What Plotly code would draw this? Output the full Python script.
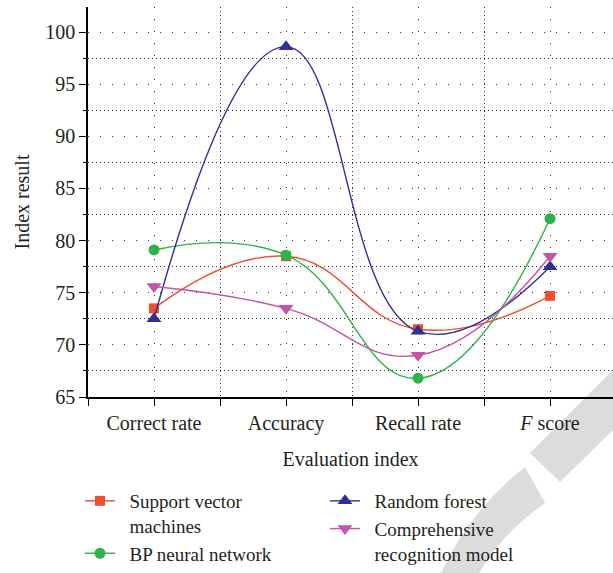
import plotly.graph_objects as go

categories = ["Correct rate", "Accuracy", "Recall rate", "<i>F</i> score"]
svm = [73.5, 78.5, 71.5, 74.7]
bp = [79.1, 78.6, 66.8, 82.1]
rf = [72.5, 98.6, 71.3, 77.5]
comp = [75.6, 73.5, 69.0, 78.5]
y_ticks = [65, 70, 75, 80, 85, 90, 95, 100]

FONT = "Liberation Serif, DejaVu Serif, serif"
TXT = "#231f20"
FS = 20

x = list(range(len(categories)))

# pixel -> paper helpers for layout placement
L, R, T, B = 88, 613, 7, 397
def px(xp):
    return (xp - L) / (R - L)
def py(yp):
    return (B - yp) / (B - T)

fig = go.Figure()

sp = "\u00a0\u00a0"
series = [
    (sp + "Support vector<br>" + sp + "machines", svm, "#f04e30", "square", 10, "legend"),
    (sp + "BP neural network", bp, "#2db34a", "circle", 11, "legend"),
    (sp + "Random forest", rf, "#2e3192", "triangle-up", 13, "legend2"),
    (sp + "Comprehensive<br>" + sp + "recognition model", comp, "#c355a8", "triangle-down", 13, "legend2"),
]
for name, vals, col, sym, size, lg in series:
    fig.add_trace(go.Scatter(
        x=x, y=vals, name=name, mode="lines+markers",
        line=dict(color=col, width=1.4, shape="spline", smoothing=1.3),
        marker=dict(color=col, symbol=sym, size=size),
        legend=lg, cliponaxis=False,
    ))

# watermark shapes (grey decoration)
def pt(a, b):
    return f"{px(a):.4f},{py(b):.4f}"
band = f"M {pt(530,453)} L {pt(616,367)} L {pt(616,427)} L {pt(560,482)} Z"
arc = (f"M {pt(440,575)} Q {pt(470,510)} {pt(525,467)} L {pt(545,503)} "
       f"Q {pt(500,535)} {pt(478,575)} Z")
for p in (band, arc):
    fig.add_shape(type="path", path=p, xref="paper", yref="paper",
                  fillcolor="#dcdcdc", line=dict(width=0), layer="below")

fig.update_layout(
    width=613, height=573,
    margin=dict(l=L, r=613 - R, t=T, b=573 - B, autoexpand=False),
    paper_bgcolor="white", plot_bgcolor="white",
    font=dict(family=FONT, size=FS, color=TXT),
    legend=dict(x=px(80), y=py(482), xanchor="left", yanchor="top",
                orientation="v", valign="top", font=dict(size=FS - 1),
                tracegroupgap=0, itemwidth=30, bgcolor="rgba(0,0,0,0)"),
    legend2=dict(x=px(325), y=py(482), xanchor="left", yanchor="top",
                 orientation="v", valign="top", font=dict(size=FS - 1),
                 tracegroupgap=0, itemwidth=30, bgcolor="rgba(0,0,0,0)"),
    xaxis=dict(
        range=[-0.5, 3.477], tickvals=x, ticktext=categories, automargin=False,
        showline=True, linecolor="black", linewidth=1.5,
        ticks="outside", ticklen=7, tickwidth=1.3, tickcolor="black",
        showgrid=True, gridcolor="#333", gridwidth=1, griddash="1px,11px",
        minor=dict(tick0=0.5, dtick=1, ticks="outside", ticklen=7, tickwidth=1.3,
                   tickcolor="black", showgrid=True, gridcolor="#333",
                   gridwidth=1, griddash="1px,3px"),
        zeroline=False, mirror=False,
        title=dict(text="Evaluation index", standoff=18, font=dict(size=FS)),
        tickfont=dict(size=FS),
    ),
    yaxis=dict(
        range=[65, 102.4], tickvals=y_ticks, automargin=False,
        showline=True, linecolor="black", linewidth=1.5,
        ticks="outside", ticklen=7, tickwidth=1.3, tickcolor="black",
        showgrid=True, gridcolor="#333", gridwidth=1, griddash="1px,11px",
        minor=dict(tick0=67.5, dtick=5, ticks="outside", ticklen=3, tickwidth=1.3,
                   tickcolor="black", showgrid=True, gridcolor="#333",
                   gridwidth=1, griddash="1px,3px"),
        zeroline=False,
        title=dict(text="Index result", standoff=10, font=dict(size=FS)),
        tickfont=dict(size=FS),
    ),
)

fig.write_html("out.html", config={"displayModeBar": False},
               post_script="document.body.style.margin='0';document.body.style.overflow='hidden';")
